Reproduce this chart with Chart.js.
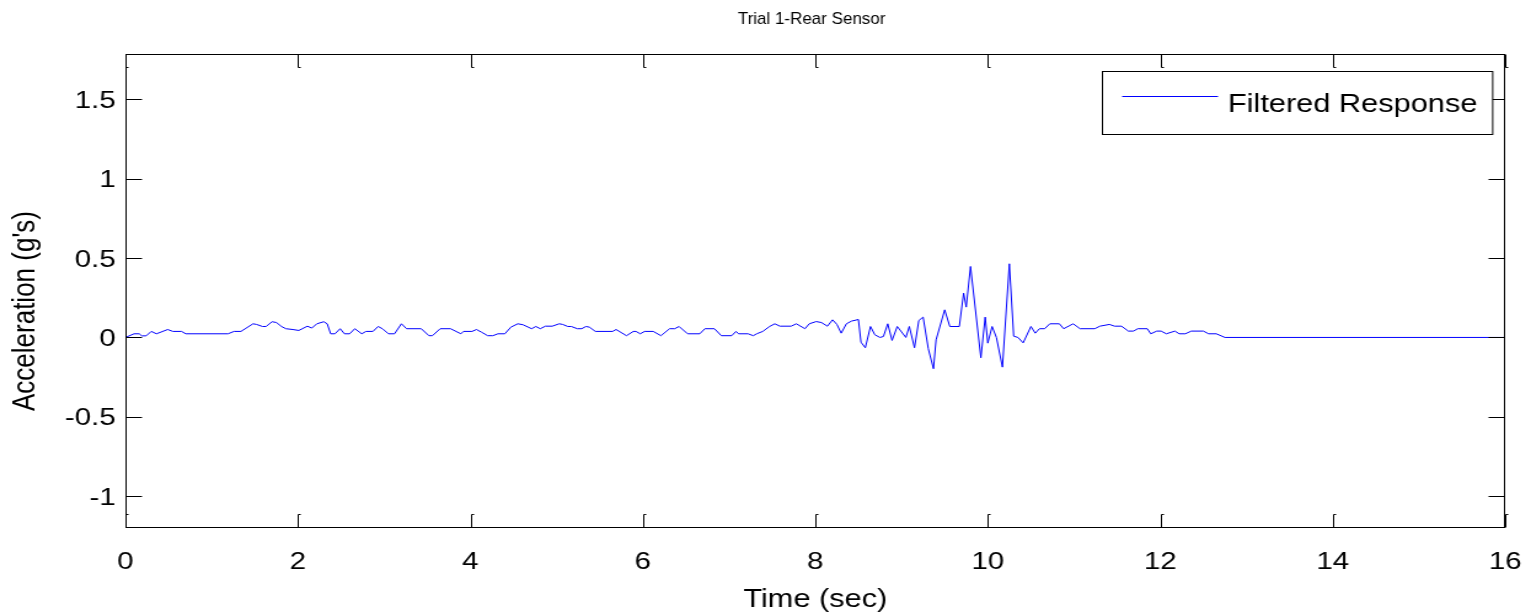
<!DOCTYPE html>
<html>
<head>
<meta charset="utf-8">
<title>Trial 1-Rear Sensor</title>
<script src="https://cdn.jsdelivr.net/npm/chart.js@4/dist/chart.umd.min.js"></script>
<style>
  html, body { margin: 0; padding: 0; background: #fff; overflow: hidden; }
  /* the figure is laid out on a 1245px canvas and widened to the 1531px page */
  #wrap { width: 1245px; height: 616px; transform: scaleX(1.22972); transform-origin: 0 0; }
  canvas { display: block; }
</style>
</head>
<body>
<div id="wrap"><canvas id="c" width="1245" height="616"></canvas></div>
<script>
// Filtered accelerometer trace, rear sensor, trial 1
const timeSec = [
  0, 0.10, 0.16, 0.19, 0.24, 0.30, 0.36, 0.49, 0.55, 0.65, 0.70, 1.19, 1.26, 1.34, 1.48, 1.52,
  1.59, 1.63, 1.70, 1.75, 1.81, 1.86, 1.94, 2.01, 2.11, 2.16, 2.22, 2.30, 2.34, 2.38, 2.43, 2.49,
  2.54, 2.60, 2.66, 2.74, 2.79, 2.87, 2.93, 2.98, 3.05, 3.12, 3.20, 3.26, 3.43, 3.52, 3.56, 3.65,
  3.77, 3.89, 3.92, 4.02, 4.07, 4.13, 4.20, 4.26, 4.32, 4.40, 4.47, 4.55, 4.61, 4.71, 4.76, 4.81,
  4.87, 4.95, 5.03, 5.07, 5.13, 5.17, 5.24, 5.29, 5.34, 5.38, 5.45, 5.65, 5.69, 5.81, 5.89, 5.92,
  5.97, 6.02, 6.12, 6.21, 6.31, 6.37, 6.42, 6.52, 6.66, 6.72, 6.83, 6.91, 7.03, 7.08, 7.11, 7.22,
  7.28, 7.32, 7.39, 7.47, 7.53, 7.59, 7.72, 7.78, 7.88, 7.93, 8.01, 8.07, 8.14, 8.20, 8.25, 8.30,
  8.36, 8.42, 8.50, 8.53, 8.58, 8.64, 8.69, 8.75, 8.79, 8.84, 8.89, 8.95, 9.05, 9.09, 9.15, 9.20,
  9.25, 9.31, 9.37, 9.40, 9.50, 9.56, 9.67, 9.72, 9.75, 9.80, 9.92, 9.97, 10.00, 10.05, 10.10, 10.17,
  10.25, 10.30, 10.35, 10.41, 10.50, 10.55, 10.60, 10.66, 10.72, 10.83, 10.88, 10.99, 11.07, 11.24, 11.30, 11.41,
  11.47, 11.55, 11.63, 11.69, 11.74, 11.85, 11.89, 11.96, 12.01, 12.07, 12.17, 12.22, 12.29, 12.36, 12.50, 12.56,
  12.65, 12.75, 16
];
const accelG = [
  0, 0.023, 0.023, 0.010, 0.010, 0.038, 0.023, 0.050, 0.038, 0.038, 0.023, 0.023, 0.038, 0.038, 0.086, 0.082,
  0.069, 0.069, 0.099, 0.094, 0.069, 0.055, 0.050, 0.044, 0.071, 0.059, 0.086, 0.099, 0.086, 0.023, 0.023, 0.055,
  0.023, 0.023, 0.055, 0.023, 0.038, 0.038, 0.069, 0.055, 0.023, 0.023, 0.086, 0.055, 0.055, 0.011, 0.011, 0.055,
  0.055, 0.023, 0.038, 0.038, 0.050, 0.033, 0.011, 0.011, 0.023, 0.023, 0.065, 0.086, 0.080, 0.055, 0.069, 0.055,
  0.071, 0.071, 0.086, 0.082, 0.069, 0.069, 0.055, 0.055, 0.069, 0.065, 0.038, 0.038, 0.050, 0.011, 0.038, 0.038,
  0.023, 0.038, 0.038, 0.011, 0.055, 0.055, 0.069, 0.023, 0.023, 0.055, 0.055, 0.011, 0.011, 0.038, 0.023, 0.023,
  0.011, 0.023, 0.038, 0.069, 0.086, 0.071, 0.071, 0.086, 0.055, 0.086, 0.100, 0.094, 0.071, 0.111, 0.082, 0.027,
  0.086, 0.103, 0.113, -0.030, -0.065, 0.069, 0.017, 0, 0.006, 0.086, -0.019, 0.069, 0, 0.069, -0.065, 0.107,
  0.128, -0.071, -0.197, -0.015, 0.174, 0.069, 0.069, 0.279, 0.191, 0.447, -0.128, 0.128, -0.036, 0.069, 0, -0.187,
  0.464, 0.008, 0, -0.034, 0.069, 0.027, 0.055, 0.055, 0.086, 0.086, 0.055, 0.086, 0.055, 0.055, 0.071, 0.082,
  0.071, 0.071, 0.040, 0.040, 0.055, 0.055, 0.023, 0.040, 0.040, 0.023, 0.040, 0.023, 0.023, 0.040, 0.040, 0.023,
  0.023, 0, 0
];
const xTicks = [0, 2, 4, 6, 8, 10, 12, 14, 16];
const yTicks = [-1, -0.5, 0, 0.5, 1, 1.5];
const seriesLabel = 'Filtered Response';
const chartTitle = 'Trial 1-Rear Sensor';
const yAxisTitle = "Acceleration (g's)";

const FONT = '"Liberation Sans", Arial, Helvetica, sans-serif';
const PAGE_STRETCH = 1.22972;
Chart.defaults.color = '#000';
Chart.defaults.font.family = FONT;

// Box around the axes with inward tick marks on all four sides, the titles and the legend
const axesFrame = {
  id: 'axesFrame',
  afterDraw(chart) {
    const { ctx, chartArea: a, scales } = chart;
    const L = Math.round(a.left) + 0.5, R = Math.round(a.right) - 0.5;
    const T = Math.round(a.top) + 0.5, B = Math.round(a.bottom) - 0.5;
    const len = 13;
    ctx.save();
    ctx.strokeStyle = '#000';
    ctx.lineWidth = 1;
    ctx.beginPath();
    scales.x.ticks.forEach(t => {
      const p = Math.round(scales.x.getPixelForValue(t.value)) + 0.5;
      ctx.moveTo(p, B); ctx.lineTo(p, B - len); ctx.lineTo(p + 2, B - len);
      ctx.moveTo(p, T); ctx.lineTo(p, T + len); ctx.lineTo(p + 2, T + len);
    });
    scales.y.ticks.forEach(t => {
      const p = Math.round(scales.y.getPixelForValue(t.value)) + 0.5;
      ctx.moveTo(L, p); ctx.lineTo(L + len, p);
      ctx.moveTo(R, p); ctx.lineTo(R - len, p);
    });
    ctx.stroke();
    ctx.strokeRect(L, T, R - L, B - T);

    // chart title, drawn with normal letter proportions
    ctx.save();
    ctx.translate((a.left + a.right) / 2 - 3, 19);
    ctx.scale(1 / PAGE_STRETCH, 1);
    ctx.font = '17px ' + FONT;
    ctx.fillStyle = '#000';
    ctx.textAlign = 'center';
    ctx.textBaseline = 'middle';
    ctx.fillText(chartTitle, 0, 0);
    ctx.restore();

    // y-axis title, rotated, sitting a little below the middle of the axis
    ctx.save();
    ctx.translate(20.5, (a.top + a.bottom) / 2 + 20);
    ctx.rotate(-Math.PI / 2);
    ctx.font = '26px ' + FONT;
    ctx.fillStyle = '#000';
    ctx.textAlign = 'center';
    ctx.textBaseline = 'middle';
    ctx.fillText(yAxisTitle, 0, 0);
    ctx.restore();

    // legend
    const ds = chart.data.datasets[0];
    ctx.font = '25px ' + FONT;
    const tw = ctx.measureText(ds.label).width;
    const w = 16 + 78 + 8 + tw + 12.5, h = 63;
    const bx = Math.round(a.right - 11 - w) + 0.5, by = Math.round(a.top + 17) + 0.5;
    ctx.fillStyle = '#fff';
    ctx.fillRect(bx, by, w, h);
    ctx.strokeRect(bx, by, w, h);
    ctx.strokeStyle = ds.borderColor;
    ctx.beginPath();
    ctx.moveTo(bx + 16, by + 25);
    ctx.lineTo(bx + 94, by + 25);
    ctx.stroke();
    ctx.fillStyle = '#000';
    ctx.textBaseline = 'alphabetic';
    ctx.textAlign = 'left';
    ctx.fillText(ds.label, bx + 102, by + 40.5);
    ctx.restore();
  }
};

// fixed axis band sizes, without the extra room the library reserves for end labels
const fixBand = (prop, size) => s => {
  s[prop] = size;
  s.paddingLeft = s.paddingRight = s.paddingTop = s.paddingBottom = 0;
};

new Chart(document.getElementById('c'), {
  type: 'line',
  data: {
    datasets: [{
      label: seriesLabel,
      data: timeSec.map((t, i) => ({ x: t, y: accelG[i] })),
      borderColor: '#0000ff',
      borderWidth: 1,
      pointRadius: 0,
      tension: 0,
      fill: false
    }]
  },
  options: {
    responsive: false,
    devicePixelRatio: 1,
    animation: false,
    layout: { padding: { top: 54, right: 21, bottom: 0, left: 0 } },
    plugins: {
      legend: { display: false },
      tooltip: { enabled: false },
      title: { display: false }
    },
    scales: {
      x: {
        type: 'linear',
        min: 0,
        max: 16,
        afterBuildTicks: s => { s.ticks = xTicks.map(v => ({ value: v })); },
        afterFit: fixBand('height', 88),
        grid: { display: false, drawTicks: false },
        border: { display: false },
        ticks: { font: { size: 24 }, padding: 20, maxRotation: 0, autoSkip: false, callback: v => String(v) },
        title: { display: true, text: 'Time (sec)', font: { size: 25 }, padding: { top: 0, bottom: 1 } }
      },
      y: {
        type: 'linear',
        min: -1.2,
        max: 1.785,
        afterBuildTicks: s => { s.ticks = yTicks.map(v => ({ value: v })); },
        afterFit: fixBand('width', 102),
        grid: { display: false, drawTicks: false },
        border: { display: false },
        ticks: { font: { size: 24 }, padding: 8, labelOffset: 2, autoSkip: false, callback: v => String(v) },
        title: { display: false }
      }
    }
  },
  plugins: [axesFrame]
});
</script>
</body>
</html>
